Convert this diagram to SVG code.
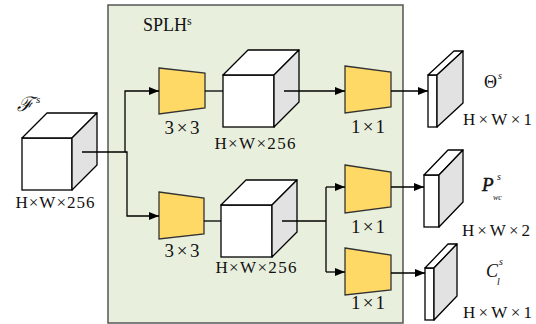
<svg xmlns="http://www.w3.org/2000/svg" width="536" height="324" viewBox="0 0 536 324">
<defs>
<marker id="arr" viewBox="0 0 10 8" refX="10" refY="4" markerWidth="10" markerHeight="8" markerUnits="userSpaceOnUse" orient="auto">
<path d="M0,0 L10,4 L0,8 Z" fill="#000"/>
</marker>
<style>
.panel{fill:#e9efdd;stroke:#555;stroke-width:1.5}
.front{fill:#fff;stroke:#000;stroke-width:1.3}
.top{fill:#fff;stroke:#000;stroke-width:1.3;stroke-linejoin:round}
.side{fill:#e2e2e2;stroke:#000;stroke-width:1.3;stroke-linejoin:round}
.trap{fill:#ffd966;stroke:#333;stroke-width:1.3}
.ln{fill:none;stroke:#000;stroke-width:1.3}
.dim{font-family:"Liberation Serif",serif;font-size:17px;fill:#111;text-anchor:middle}
.k{font-family:"Liberation Serif",serif;font-size:19px;fill:#111;text-anchor:middle}
.m{font-family:"Liberation Serif",serif;fill:#111}
</style>
</defs>
<rect class="panel" x="108" y="5" width="295" height="318"/>
<text class="m" x="143" y="31" font-size="18">SPLH<tspan font-size="12" dy="-6">s</tspan></text>

<g id="input">
<rect class="front" x="22" y="138" width="50" height="52"/>
<polygon class="top" points="22,138 47,113 97,113 72,138"/>
<polygon class="side" points="72,138 97,113 97,165 72,190"/>
<text class="m" x="17" y="111" font-size="20" font-style="italic">ℱ</text>
<text class="m" x="36" y="103" font-size="11" font-style="italic">s</text>
<text class="dim" x="55" y="208" textLength="79" lengthAdjust="spacing">H×W×256</text>
</g>

<g id="conv3a">
<polygon class="trap" points="159,68 205,73 205,108 159,114"/>
<text class="k" x="182" y="134" textLength="35" lengthAdjust="spacing">3×3</text>
</g>
<g id="feat_a">
<rect class="front" x="223" y="75" width="51" height="52"/>
<polygon class="top" points="223,75 248,50 299,50 274,75"/>
<polygon class="side" points="274,75 299,50 299,102 274,127"/>
<text class="dim" x="255" y="149" textLength="81" lengthAdjust="spacing">H×W×256</text>
</g>
<g id="conv1a">
<polygon class="trap" points="345,66 391,72 391,107 345,113"/>
<text class="k" x="368" y="133" textLength="34" lengthAdjust="spacing">1×1</text>
</g>
<g id="out_theta">
<rect class="front" x="428" y="75" width="9" height="52"/>
<polygon class="top" points="428,75 454,51 463,51 437,75"/>
<polygon class="side" points="437,75 463,51 463,103 437,127"/>
<text class="m" x="484" y="88" font-size="18">Θ</text>
<text class="m" x="498" y="79" font-size="10" font-style="italic">s</text>
<text class="dim" x="497.5" y="125" textLength="69" lengthAdjust="spacing">H×W×1</text>
</g>

<g id="conv3b">
<polygon class="trap" points="159,192 204,198 204,234 159,239"/>
<text class="k" x="182" y="257" textLength="35" lengthAdjust="spacing">3×3</text>
</g>
<g id="feat_b">
<rect class="front" x="221" y="205" width="51" height="52"/>
<polygon class="top" points="221,205 246,180 297,180 272,205"/>
<polygon class="side" points="272,205 297,180 297,232 272,257"/>
<text class="dim" x="256" y="273" textLength="81" lengthAdjust="spacing">H×W×256</text>
</g>
<g id="conv1b">
<polygon class="trap" points="345,165 391,172 391,207 345,213"/>
<text class="k" x="368" y="233" textLength="34" lengthAdjust="spacing">1×1</text>
</g>
<g id="conv1c">
<polygon class="trap" points="345,248 391,255 391,290 345,295"/>
<text class="k" x="368" y="309" textLength="34" lengthAdjust="spacing">1×1</text>
</g>
<g id="out_pwc">
<rect class="front" x="424" y="175" width="15" height="52"/>
<polygon class="top" points="424,175 448,150 463,150 439,175"/>
<polygon class="side" points="439,175 463,150 463,202 439,227"/>
<text class="m" x="482" y="191" font-size="19" font-style="italic" stroke="#111" stroke-width="0.5">P</text>
<text class="m" x="497" y="180" font-size="10" font-style="italic">s</text>
<text class="m" x="493" y="200" font-size="8" font-style="italic">wc</text>
<text class="dim" x="496" y="236" textLength="68" lengthAdjust="spacing">H×W×2</text>
</g>
<g id="out_cl">
<rect class="front" x="425" y="268" width="9" height="52"/>
<polygon class="top" points="425,268 448,244 457,244 434,268"/>
<polygon class="side" points="434,268 457,244 457,296 434,320"/>
<text class="m" x="486" y="277" font-size="18" font-style="italic">C</text>
<text class="m" x="499" y="265" font-size="10" font-style="italic">s</text>
<text class="m" x="497" y="285" font-size="10" font-style="italic">l</text>
<text class="dim" x="497.5" y="318" textLength="69" lengthAdjust="spacing">H×W×1</text>
</g>

<g id="connectors">
<path class="ln" d="M82,152 H125 V91 H159" marker-end="url(#arr)"/>
<path class="ln" d="M125,152 H127 V216 H159" marker-end="url(#arr)"/>
<path class="ln" d="M205,91 H223"/>
<path class="ln" d="M284,91 H345" marker-end="url(#arr)"/>
<path class="ln" d="M391,91 H428" marker-end="url(#arr)"/>
<path class="ln" d="M204,221 H221"/>
<path class="ln" d="M282,221 H326"/>
<path class="ln" d="M326,187 V272"/>
<path class="ln" d="M326,187 H345" marker-end="url(#arr)"/>
<path class="ln" d="M326,272 H345" marker-end="url(#arr)"/>
<path class="ln" d="M391,187 H424" marker-end="url(#arr)"/>
<path class="ln" d="M391,273 H425" marker-end="url(#arr)"/>
</g>
</svg>
